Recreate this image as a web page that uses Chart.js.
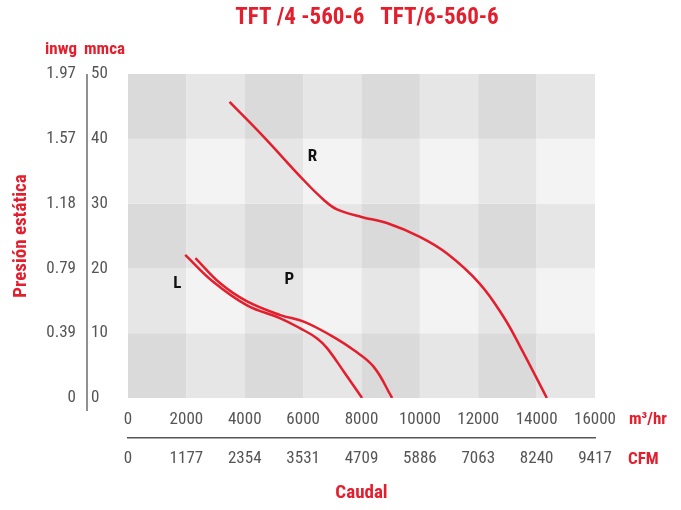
<!DOCTYPE html>
<html lang="es">
<head>
  <meta charset="UTF-8">
  <title>TFT /4 -560-6 TFT/6-560-6</title>
  <style>
    html, body { margin: 0; padding: 0; background: #fff; }
  </style>
</head>
<body>
  <canvas id="curveChart" width="681" height="510"></canvas>
  <script src="https://cdn.jsdelivr.net/npm/chart.js"></script>
  <script>
    // axis ticks
    const flowTicks = [0, 2000, 4000, 6000, 8000, 10000, 12000, 14000, 16000];
    const cfmLabels = ['0', '1177', '2354', '3531', '4709', '5886', '7063', '8240', '9417'];
    const mmcaTicks = [0, 10, 20, 30, 40, 50];
    const inwgLabels = ['0', '0.39', '0.79', '1.18', '1.57', '1.97'];

    // curves (m3/hr, mmca)
    const rFlow = [3480, 4650, 5960, 6700, 7160, 8030, 8870, 9980, 10930, 12040, 12870, 13440, 14350];
    const rPressure = [45.7, 40.3, 33.9, 30.6, 29.1, 27.9, 27.0, 24.9, 22.3, 17.7, 12.5, 7.9, 0];

    const lFlow = [1960, 2930, 4080, 5220, 5900, 6480, 6820, 7390, 8020];
    const lPressure = [22.1, 17.9, 14.3, 12.3, 10.75, 9.2, 7.7, 4.1, 0];

    const pFlow = [2310, 3160, 4080, 5220, 6020, 6930, 7730, 8420, 9050];
    const pPressure = [21.6, 17.7, 14.9, 12.8, 11.8, 9.7, 7.4, 4.8, 0];

    const curveNames = ['R', 'L', 'P'];
    const nameFlow = [6320, 1690, 5530];
    const namePressure = [37.3, 17.7, 18.2];

    const RED = '#e31e2d';
    const GREY = '#555';
    const NARROW = '"Liberation Sans Narrow", "Roboto Condensed", "Roboto", sans-serif';

    const toPoints = (xs, ys) => xs.map((x, i) => ({ x: x, y: ys[i] }));

    const decor = {
      id: 'decor',
      beforeDatasetsDraw(chart) {
        const { ctx, chartArea } = chart;
        const xs = chart.scales.xM;
        const ys = chart.scales.yMm;
        ctx.save();
        for (let i = 0; i < flowTicks.length - 1; i++) {
          for (let j = 0; j < mmcaTicks.length - 1; j++) {
            const x0 = xs.getPixelForValue(flowTicks[i]);
            const x1 = xs.getPixelForValue(flowTicks[i + 1]);
            const y0 = ys.getPixelForValue(mmcaTicks[j + 1]);
            const y1 = ys.getPixelForValue(mmcaTicks[j]);
            const darkRow = j % 2 === 0;
            const darkCol = i % 2 === 0;
            ctx.fillStyle = darkRow && darkCol ? '#dadada' : (darkRow || darkCol ? '#e6e6e6' : '#f3f3f3');
            ctx.fillRect(x0, y0, x1 - x0, y1 - y0);
          }
        }
        // separator between the two pressure scales
        const sep = chart.scales.yIn.right - 4;
        ctx.strokeStyle = GREY;
        ctx.lineWidth = 1.3;
        ctx.beginPath();
        ctx.moveTo(sep, chartArea.top);
        ctx.lineTo(sep, chartArea.bottom + 13);
        ctx.stroke();
        ctx.restore();
      },
      afterDraw(chart) {
        const { ctx } = chart;
        const xs = chart.scales.xM;
        const ys = chart.scales.yMm;
        ctx.save();
        ctx.fillStyle = RED;
        ctx.textBaseline = 'middle';

        ctx.font = 'bold 23px ' + NARROW;
        ctx.textAlign = 'center';
        ctx.fillText('TFT /4 -560-6   TFT/6-560-6', 367, 18);

        ctx.font = 'bold 17px ' + NARROW;
        ctx.textAlign = 'right';
        ctx.fillText('inwg', 77, 50);
        ctx.textAlign = 'left';
        ctx.fillText('mmca', 84, 50);

        ctx.font = 'bold 17px ' + NARROW;
        ctx.fillText('m³/hr', 629, 420);
        ctx.fillText('CFM', 628, 460);

        ctx.fillStyle = '#111';
        ctx.font = 'bold 17px ' + NARROW;
        ctx.textAlign = 'center';
        curveNames.forEach((name, i) => {
          ctx.fillText(name, xs.getPixelForValue(nameFlow[i]), ys.getPixelForValue(namePressure[i]));
        });
        ctx.restore();
      }
    };

    const curveStyle = {
      borderColor: RED,
      borderWidth: 2.5,
      pointRadius: 0,
      fill: false,
      tension: 0.4,
      xAxisID: 'xM',
      yAxisID: 'yMm'
    };

    const tickFont = { family: NARROW, size: 17 };

    new Chart(document.getElementById('curveChart'), {
      type: 'line',
      data: {
        datasets: [
          Object.assign({ label: 'R', data: toPoints(rFlow, rPressure) }, curveStyle),
          Object.assign({ label: 'L', data: toPoints(lFlow, lPressure) }, curveStyle),
          Object.assign({ label: 'P', data: toPoints(pFlow, pPressure) }, curveStyle)
        ]
      },
      options: {
        responsive: false,
        animation: false,
        layout: { padding: { left: 0, right: 86, top: 74, bottom: 0 } },
        plugins: {
          legend: { display: false },
          tooltip: { enabled: false }
        },
        scales: {
          xM: {
            type: 'linear',
            position: 'bottom',
            weight: 0,
            min: 0,
            max: 16000,
            grid: { display: false },
            border: { display: false },
            ticks: {
              stepSize: 2000, autoSkip: false, maxRotation: 0, padding: 4, color: GREY, font: tickFont,
              callback: (v) => String(v)
            },
            afterFit: (s) => { s.height = 40; }
          },
          xC: {
            type: 'linear',
            position: 'bottom',
            weight: 1,
            min: 0,
            max: 16000,
            grid: { display: false, drawTicks: false },
            border: { display: true, color: GREY, width: 1.5 },
            ticks: {
              stepSize: 2000, autoSkip: false, maxRotation: 0, padding: 11, color: GREY, font: tickFont,
              callback: (v, i) => cfmLabels[i]
            },
            title: { display: true, text: 'Caudal', color: RED, font: { family: NARROW, size: 19, weight: 'bold' }, padding: { top: 0, bottom: 5 } },
            afterFit: (s) => { s.height = 72; }
          },
          yIn: {
            type: 'linear',
            position: 'left',
            weight: 1,
            min: 0,
            max: 50,
            grid: { display: false, drawTicks: false },
            border: { display: false },
            ticks: {
              stepSize: 10, padding: 15, color: GREY, font: tickFont,
              callback: (v, i) => inwgLabels[i]
            },
            title: { display: true, text: 'Presión estática', color: RED, font: { family: NARROW, size: 19, weight: 'bold' }, padding: { top: 10, bottom: 0 } },
            afterFit: (s) => { s.width = 91; }
          },
          yMm: {
            type: 'linear',
            position: 'left',
            weight: 0,
            min: 0,
            max: 50,
            grid: { display: false, drawTicks: false },
            border: { display: false },
            ticks: { stepSize: 10, crossAlign: 'far', color: GREY, font: tickFont },
            afterFit: (s) => { s.width = 37; }
          }
        }
      },
      plugins: [decor]
    });
  </script>
</body>
</html>
